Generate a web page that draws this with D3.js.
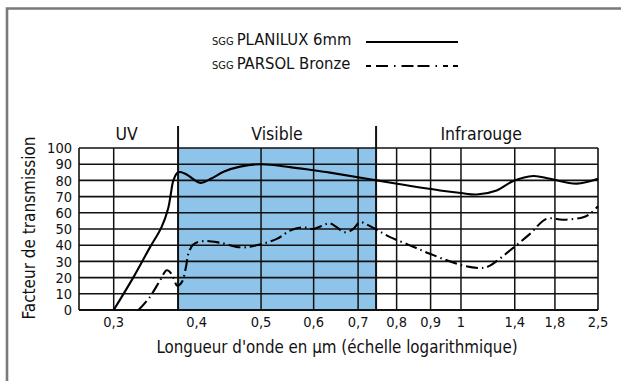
<!DOCTYPE html>
<html>
<head>
<meta charset="utf-8">
<script src="https://cdn.jsdelivr.net/npm/d3@7"></script>
<style>
  html, body { margin: 0; padding: 0; background: #fff; }
  svg { display: block; }
  text { font-family: "Liberation Sans Narrow", "DejaVu Sans Condensed", "Roboto", sans-serif; fill: #111; }
</style>
</head>
<body>
<svg id="chart" width="621" height="381"></svg>
<script>
// Spectral transmission of two glazing products (wavelength in µm, transmission in %)
const planiluxWavelength = [0.300, 0.321, 0.340, 0.354, 0.3625, 0.3655, 0.369, 0.375, 0.385, 0.405, 0.420, 0.440, 0.465, 0.500, 0.553, 0.592, 0.635, 0.746, 0.930, 1.000, 1.103, 1.250, 1.387, 1.572, 1.745, 2.125, 2.500];
const planiluxTransmission = [0, 20, 38.5, 51, 63, 71, 80, 85, 84, 78.5, 81, 85.5, 88.5, 90, 88.2, 86.6, 84.8, 80, 73.8, 72.2, 71.3, 73.8, 79.6, 82.7, 81, 78, 81];

const parsolWavelength = [0.327, 0.340, 0.352, 0.3605, 0.3646, 0.3688, 0.374, 0.3797, 0.3854, 0.3885, 0.3953, 0.409, 0.434, 0.465, 0.487, 0.528, 0.553, 0.579, 0.599, 0.620, 0.635, 0.669, 0.688, 0.7045, 0.721, 0.7465, 0.782, 0.828, 0.898, 1.0145, 1.150, 1.199, 1.358, 1.540, 1.709, 1.918, 2.234, 2.352, 2.500];
const parsolTransmission = [0, 8, 18, 24.5, 23.5, 20, 15, 17, 26.5, 34.5, 40.4, 42.5, 41.5, 38.7, 39.5, 43.9, 49, 51, 50, 52.2, 53.5, 48, 50, 54.2, 52.8, 49.5, 45, 40.8, 34.7, 27.4, 26, 27.4, 36.7, 47, 56.3, 55.7, 57.3, 59.4, 64];

// Axis ticks and spectral bands
const xTickValues = [0.3, 0.4, 0.5, 0.6, 0.7, 0.8, 0.9, 1, 1.4, 1.8, 2.5];
const xTickLabels = ["0,3", "0,4", "0,5", "0,6", "0,7", "0,8", "0,9", "1", "1,4", "1,8", "2,5"];
const xGridValues = [0.3, 0.5, 0.6, 0.7, 0.8, 0.9, 1, 1.4, 1.8];
const yTickValues = [0, 10, 20, 30, 40, 50, 60, 70, 80, 90, 100];
const xDomain = [0.266, 1, 1.8, 2.5];
const bandNames = ["UV", "Visible", "Infrarouge"];
const bandEdges = [0.266, 0.375, 0.745, 2.5];
const seriesNames = ["PLANILUX 6mm", "PARSOL Bronze"];

const svg = d3.select("#chart");
const margin = { left: 79, top: 148, right: 23, bottom: 71 };
const W = 621 - margin.left - margin.right;
const H = 381 - margin.top - margin.bottom;

// Outer frame (left and top edges visible)
svg.append("path")
  .attr("d", "M7,390 V8.5 H630")
  .attr("fill", "none").attr("stroke", "#7a7a7a").attr("stroke-width", 2.6);

const g = svg.append("g").attr("transform", `translate(${margin.left},${margin.top})`);

// Piecewise logarithmic wavelength axis
const x = d3.scaleLog().domain(xDomain).range([0, 0.736 * W, 0.917 * W, W]);
const y = d3.scaleLinear().domain([0, 100]).range([H, 0]);

// Visible band shading
g.append("rect")
  .attr("x", x(bandEdges[1])).attr("y", 0)
  .attr("width", x(bandEdges[2]) - x(bandEdges[1])).attr("height", H)
  .attr("fill", "#8fc4ea");

// Horizontal grid
g.append("g").selectAll("line").data(yTickValues).join("line")
  .attr("x1", 0).attr("x2", W)
  .attr("y1", d => y(d)).attr("y2", d => y(d))
  .attr("stroke", "#111").attr("stroke-width", 1.6);

// Vertical grid
g.append("g").selectAll("line").data(xGridValues).join("line")
  .attr("x1", d => x(d)).attr("x2", d => x(d))
  .attr("y1", 0).attr("y2", H)
  .attr("stroke", "#111").attr("stroke-width", 1.5);

// Plot frame sides
g.append("line").attr("x1", 0).attr("x2", 0).attr("y1", 0).attr("y2", H)
  .attr("stroke", "#111").attr("stroke-width", 1.6);
g.append("line").attr("x1", W).attr("x2", W).attr("y1", 0).attr("y2", H)
  .attr("stroke", "#111").attr("stroke-width", 1.6);
g.append("line").attr("x1", 0).attr("x2", W).attr("y1", H).attr("y2", H)
  .attr("stroke", "#111").attr("stroke-width", 2.2);

// Band boundaries, extended above the plot
g.append("g").selectAll("line").data(bandEdges.slice(1, 3)).join("line")
  .attr("x1", d => x(d)).attr("x2", d => x(d))
  .attr("y1", -22).attr("y2", H)
  .attr("stroke", "#111").attr("stroke-width", 2);

// Band names
const bandCenters = [x(0.3) + 13, (x(bandEdges[1]) + x(bandEdges[2])) / 2, x(1.1) + 5];
g.append("g").selectAll("text").data(bandNames).join("text")
  .attr("x", (d, i) => bandCenters[i]).attr("y", -8)
  .attr("text-anchor", "middle").attr("font-size", 17.5)
  .text(d => d);

// Y axis labels
g.append("g").selectAll("text").data(yTickValues).join("text")
  .attr("x", -7).attr("y", d => y(d)).attr("dy", "0.36em")
  .attr("text-anchor", "end").attr("font-size", 14.5)
  .text(d => d);

// X axis labels
g.append("g").selectAll("text").data(xTickValues).join("text")
  .attr("x", d => x(d)).attr("y", H + 17)
  .attr("text-anchor", "middle").attr("font-size", 14.5)
  .text((d, i) => xTickLabels[i]);

// Axis titles
g.append("text")
  .attr("transform", `translate(${-44},${H / 2 - 1}) rotate(-90)`)
  .attr("text-anchor", "middle").attr("font-size", 17)
  .text("Facteur de transmission");
svg.append("text")
  .attr("x", 337).attr("y", 353)
  .attr("text-anchor", "middle").attr("font-size", 16.8)
  .text("Longueur d'onde en µm (échelle logarithmique)");

// Transmission curves
const line = d3.line().x(d => x(d[0])).y(d => y(d[1])).curve(d3.curveCatmullRom.alpha(0.5));
const planilux = planiluxWavelength.map((w, i) => [w, planiluxTransmission[i]]);
const parsol = parsolWavelength.map((w, i) => [w, parsolTransmission[i]]);
const dashPattern = "12,4,1.5,4";

g.append("path").datum(planilux).attr("d", line)
  .attr("fill", "none").attr("stroke", "#000").attr("stroke-width", 2.1);
g.append("path").datum(parsol).attr("d", line)
  .attr("fill", "none").attr("stroke", "#000").attr("stroke-width", 2.1)
  .attr("stroke-dasharray", dashPattern);

// Legend
const legend = svg.append("g");
const legendRows = [{ y: 45, dash: null }, { y: 69, dash: "5,5,12,6,1.5,6,12,4,12,6,1.5,6" }];
legendRows.forEach((r, i) => {
  const t = legend.append("text").attr("x", 212).attr("y", r.y);
  t.append("tspan").attr("font-size", 11).text("SGG");
  t.append("tspan").attr("dx", 3).attr("font-size", 16.5).text(seriesNames[i]);
  legend.append("line")
    .attr("x1", 366).attr("x2", 458).attr("y1", r.y - 3).attr("y2", r.y - 3)
    .attr("stroke", "#000").attr("stroke-width", 2.2)
    .attr("stroke-dasharray", r.dash);
});
</script>
</body>
</html>
